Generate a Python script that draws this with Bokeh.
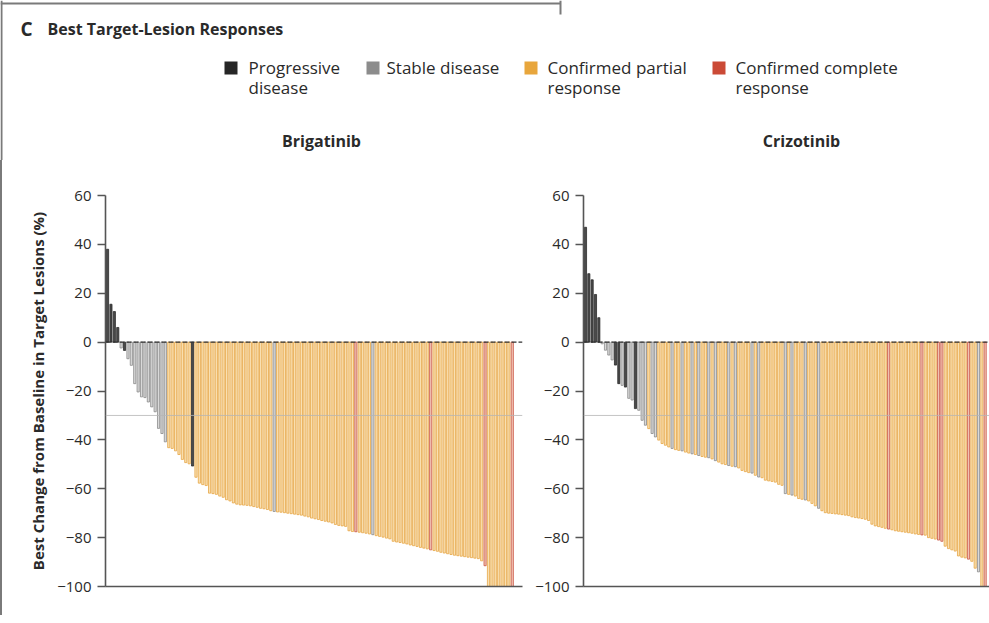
from bokeh.plotting import figure
from bokeh.models import Range1d, FixedTicker, Span, ColumnDataSource
from bokeh.core.properties import value
from bokeh.layouts import column, row
from bokeh.embed import file_html
from bokeh.resources import INLINE

# ---------------- data ----------------
categories = ["Progressive disease", "Stable disease",
              "Confirmed partial response", "Confirmed complete response"]
legend_labels = ["Progressive\ndisease", "Stable disease",
                 "Confirmed partial\nresponse", "Confirmed complete\nresponse"]
codes = ["P", "S", "R", "C"]
panel_titles = ["Brigatinib", "Crizotinib"]

brig_values = [38, 15.5, 12.5, 6, -2.4, -3.4, -6.8, -9.5, -17, -20.4,
               -22.4, -22.7, -24.5, -26.5, -28.5, -35.3, -37.4, -40.8, -43.2, -43.5,
               -44.5, -46, -48, -49.3, -49.8, -50.7, -55.3, -57.7, -58.3, -58.7,
               -61.8, -62, -62.3, -63, -63.5, -64.5, -65, -65.8, -66.3, -66.6,
               -66.7, -66.8, -67, -67.3, -67.6, -68, -68.2, -68.5, -69, -69.3,
               -69.5, -69.6, -69.8, -70, -70.2, -70.4, -70.6, -70.8, -71.2, -71.5,
               -72, -72.3, -72.6, -73, -73.3, -73.6, -74, -74.6, -75, -75.2,
               -75.4, -77.2, -77.5, -77.6, -77.8, -78, -78.2, -78.5, -78.8, -79.2,
               -79.5, -79.8, -80.2, -80.5, -81.5, -81.8, -82, -82.3, -82.6, -83,
               -83.3, -83.6, -84, -84.3, -84.6, -85, -85.3, -85.6, -86, -86.3,
               -86.6, -86.9, -87.2, -87.4, -87.6, -87.8, -88, -88.2, -88.4, -88.6,
               -89.5, -91.5, -100, -100, -100, -100, -100, -100, -100, -100]
brig_response = list("PPPPSPSSSSSSSSSSSS"
                     "RRRRRRRP"
                     "RRRRRRRRRRRRRRRRRRRRRRRS"
                     "RRRRRRRRRRRRRRRRRRRRRRRC"
                     "RRRRS"
                     "RRRRRRRRRRRRRRRRC"
                     "RRRRRRRRRRRRRRRC"
                     "RRRRRRRC")

criz_values = [47, 28, 25.5, 19.5, 10, -0.7, -3.3, -5.3, -7.3, -9.4,
               -17, -17.7, -18.4, -23, -23.7, -27.2, -27.9, -32, -34, -35.4,
               -37.4, -38.8, -40.1, -41.5, -42.2, -42.9, -43.5, -44, -44.3, -44.5,
               -45, -45.4, -45.7, -46, -46.4, -46.8, -47.1, -47.3, -47.8, -48.5,
               -49.1, -49.8, -50.1, -50.5, -50.8, -51, -51.5, -52.5, -53, -53.4,
               -53.6, -54.5, -55.2, -55.5, -56.5, -56.8, -57, -57.3, -58.2, -58.6,
               -62, -62.3, -62.6, -63, -64, -64.3, -64.6, -65, -66, -67,
               -68, -69, -69.8, -70, -70.1, -70.3, -70.4, -70.6, -70.8, -71,
               -71.5, -71.8, -72, -72.2, -72.5, -73, -74.5, -75.2, -75.5, -75.8,
               -76.2, -76.5, -76.8, -77.2, -77.4, -77.6, -77.8, -78, -78.2, -78.5,
               -78.7, -78.9, -79, -80, -80.3, -80.6, -81, -81.5, -83.5, -84.5,
               -85, -85.5, -87.5, -88, -88.3, -88.8, -89.7, -92.5, -94, -100,
               -100, -100]
criz_response = list("PPPPPSSSSPPSPSSPSSSRSSRRRRSRRSRRSRSRRSRSRRRS"
                     "RSRRRRSRSRRRRRRRSRSRRRSRRRS"
                     "RRRRRRRRRRRRRRRRRRRRC"
                     "RRRRRRRRRC"
                     "RRRRCC"
                     "RRRRRRRC"
                     "RRSRC")

y_ticks = [-100, -80, -60, -40, -20, 0, 20, 40, 60]
y_tick_labels = ["\u2212100", "\u221280", "\u221260", "\u221240", "\u221220", "0", "20", "40", "60"]
response_threshold = -30

# ---------------- style ----------------
FONT = "Open Sans"
LINE = {"P": "#262626", "S": "#848484", "R": "#e6a23c", "C": "#c84f3b"}
FILL = {"P": "#4a4a4a", "S": "#d9d9d9", "R": "#f9e0b2", "C": "#f0c2b4"}
SWATCH = {"P": "#262626", "S": "#8c8c8c", "R": "#e8a63c", "C": "#cb4a36"}
TXT = "#2a2a2a"
FRAME = "#7a7a7a"
HEADER_H = 160


def make_panel(values, resp, width, left, right, xend, ylabel=None):
    n = len(values)
    src = ColumnDataSource(dict(x=list(range(n)), top=values,
                                fill=[FILL[c] for c in resp],
                                line=[LINE[c] for c in resp]))
    p = figure(width=width, height=615 - HEADER_H, x_range=Range1d(-0.6, xend),
               y_range=Range1d(y_ticks[0], y_ticks[-1]),
               toolbar_location=None, output_backend="svg",
               min_border_left=left, min_border_right=right,
               min_border_top=195 - HEADER_H, min_border_bottom=29)
    p.vbar(x="x", top="top", bottom=0, width=0.64, fill_color="fill",
           line_color="line", line_width=0.75, source=src)
    p.add_layout(Span(location=response_threshold, dimension="width",
                      line_color="#b5b5b5", line_width=1, line_alpha=0.8))
    p.add_layout(Span(location=0, dimension="width", line_color="#303030",
                      line_width=1.3, line_dash="5 2"))
    p.grid.visible = False
    p.outline_line_color = None
    p.background_fill_color = "white"
    p.border_fill_color = "white"

    xa = p.xaxis[0]
    xa.ticker = FixedTicker(ticks=[])
    xa.major_tick_line_color = None
    xa.minor_tick_line_color = None
    xa.axis_line_color = "#555555"
    xa.axis_line_width = 1.6

    ya = p.yaxis[0]
    ya.ticker = FixedTicker(ticks=y_ticks)
    ya.major_label_overrides = dict(zip(y_ticks, y_tick_labels))
    ya.major_label_text_font = FONT
    ya.major_label_text_font_size = "15px"
    ya.major_label_text_color = TXT
    ya.major_tick_out = 8
    ya.major_tick_in = 0
    ya.major_tick_line_color = "#555555"
    ya.major_tick_line_width = 1.4
    ya.minor_tick_line_color = None
    ya.axis_line_color = "#555555"
    ya.axis_line_width = 1.6
    ya.major_label_standoff = 6
    if ylabel:
        ya.axis_label = ylabel
        ya.axis_label_text_font = FONT
        ya.axis_label_text_font_size = "15px"
        ya.axis_label_text_font_style = "bold"
        ya.axis_label_text_color = TXT
        ya.axis_label_standoff = 6
    return p


p1 = make_panel(brig_values, brig_response, 528, 103, 8, 122.0,
                "Best Change from Baseline in Target Lesions (%)")
p2 = make_panel(criz_values, criz_response, 459, 53, 0, 121.3)

# ---------------- header: panel letter, title, legend, panel titles (pixel space) ----------------
p0 = figure(width=989, height=HEADER_H, x_range=Range1d(0, 989), y_range=Range1d(HEADER_H, 0),
            toolbar_location=None, output_backend="svg",
            x_axis_location=None, y_axis_location=None,
            min_border_left=0, min_border_right=0, min_border_top=0, min_border_bottom=0)
p0.grid.visible = False
p0.outline_line_color = None

# remnants of the surrounding figure frame
p0.segment(x0=[1, 0, 560], y0=[0, 3, 0], x1=[1, 560, 560], y1=[HEADER_H, 3, 14],
           line_color=FRAME, line_width=2)

p0.text(x=[20], y=[28], text=["C"], text_font=value(FONT), text_font_size="19px",
        text_font_style="bold", text_color=TXT, text_baseline="middle")
p0.text(x=[47], y=[28], text=["Best Target-Lesion Responses"], text_font=value(FONT),
        text_font_size="16px", text_font_style="bold", text_color=TXT,
        text_baseline="middle")

swatch_x = [224, 366, 524, 712]
label_x = [248, 386, 547, 735]
p0.rect(x=[x + 6.5 for x in swatch_x], y=[67.5] * 4, width=13, height=13,
        fill_color=[SWATCH[c] for c in codes], line_color=None)
p0.text(x=label_x, y=[55] * 4, text=legend_labels,
        text_font=value(FONT), text_font_size="17px", text_color=TXT,
        text_baseline="top", text_line_height=0.88)

p0.text(x=[321, 801], y=[140, 140], text=panel_titles, text_font=value(FONT),
        text_font_size="16px", text_font_style="bold", text_color=TXT,
        text_align="center", text_baseline="middle")

layout = column(p0, row(p1, p2, styles={"border-left": "2px solid " + FRAME}))
open("out.html", "w").write(file_html(layout, INLINE))
